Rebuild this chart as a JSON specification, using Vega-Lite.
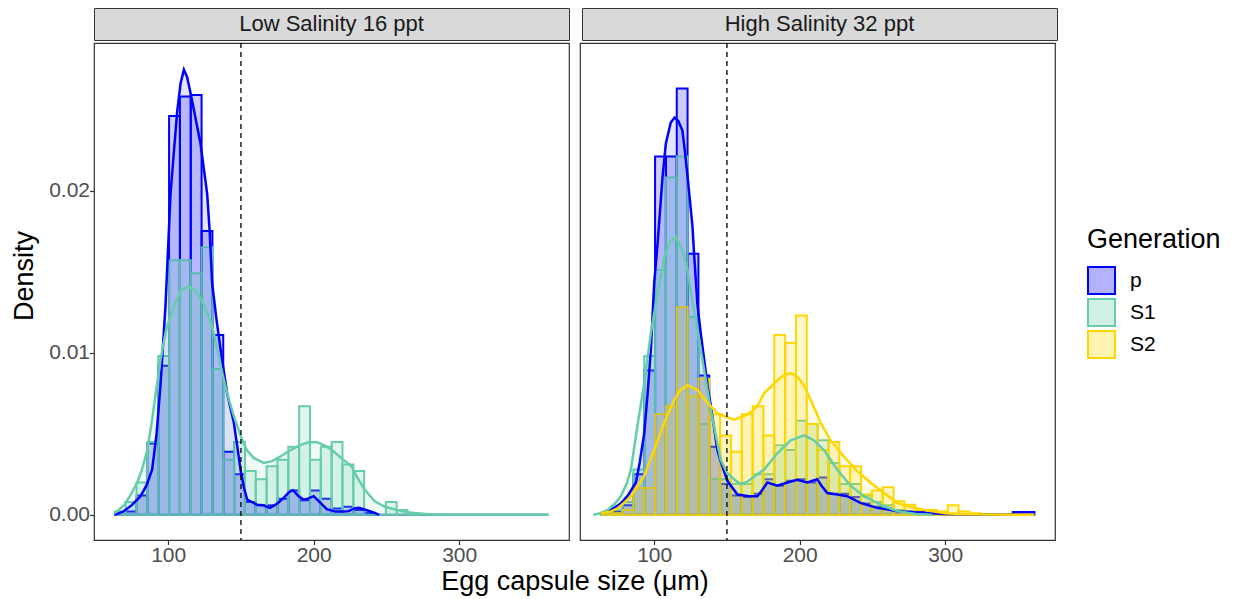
{
"$schema": "https://vega.github.io/schema/vega-lite/v6.json",
"padding": {"left": 10, "top": 7, "right": 5, "bottom": 5},
"background": "white",
"datasets": {
"bars": [
{"panel":"Low","gen":"p","lo":63.35,"hi":70.8,"dens":0},{"panel":"Low","gen":"p","lo":70.8,"hi":78.25,"dens":0.0002},{"panel":"Low","gen":"p","lo":78.25,"hi":85.7,"dens":0.0012},{"panel":"Low","gen":"p","lo":85.7,"hi":93.15,"dens":0.0044},{"panel":"Low","gen":"p","lo":93.15,"hi":100.6,"dens":0.0092},{"panel":"Low","gen":"p","lo":100.6,"hi":108.05,"dens":0.0246},{"panel":"Low","gen":"p","lo":108.05,"hi":115.5,"dens":0.0258},{"panel":"Low","gen":"p","lo":115.5,"hi":122.95,"dens":0.0259},{"panel":"Low","gen":"p","lo":122.95,"hi":130.4,"dens":0.0175},{"panel":"Low","gen":"p","lo":130.4,"hi":137.85,"dens":0.0111},{"panel":"Low","gen":"p","lo":137.85,"hi":145.3,"dens":0.0039},{"panel":"Low","gen":"p","lo":145.3,"hi":152.75,"dens":0.0025},{"panel":"Low","gen":"p","lo":152.75,"hi":160.2,"dens":0.0008},{"panel":"Low","gen":"p","lo":160.2,"hi":167.65,"dens":0.0006},{"panel":"Low","gen":"p","lo":167.65,"hi":175.1,"dens":0.0006},{"panel":"Low","gen":"p","lo":175.1,"hi":182.55,"dens":0.001},{"panel":"Low","gen":"p","lo":182.55,"hi":190,"dens":0.0015},{"panel":"Low","gen":"p","lo":190,"hi":197.45,"dens":0.0009},{"panel":"Low","gen":"p","lo":197.45,"hi":204.9,"dens":0.0015},{"panel":"Low","gen":"p","lo":204.9,"hi":212.35,"dens":0.001},{"panel":"Low","gen":"p","lo":212.35,"hi":219.8,"dens":0.0004},{"panel":"Low","gen":"p","lo":219.8,"hi":227.25,"dens":0.0005},{"panel":"Low","gen":"p","lo":227.25,"hi":234.7,"dens":0.0003},{"panel":"Low","gen":"p","lo":234.7,"hi":242.15,"dens":0.0001},{"panel":"Low","gen":"p","lo":242.15,"hi":249.6,"dens":0},{"panel":"Low","gen":"p","lo":249.6,"hi":257.05,"dens":0},{"panel":"Low","gen":"p","lo":257.05,"hi":264.5,"dens":0},{"panel":"Low","gen":"p","lo":264.5,"hi":271.95,"dens":0},{"panel":"Low","gen":"p","lo":271.95,"hi":279.4,"dens":0},{"panel":"Low","gen":"p","lo":279.4,"hi":286.85,"dens":0},{"panel":"Low","gen":"p","lo":286.85,"hi":294.3,"dens":0},{"panel":"Low","gen":"p","lo":294.3,"hi":301.75,"dens":0},{"panel":"Low","gen":"p","lo":301.75,"hi":309.2,"dens":0},{"panel":"Low","gen":"p","lo":309.2,"hi":316.65,"dens":0},{"panel":"Low","gen":"p","lo":316.65,"hi":324.1,"dens":0},{"panel":"Low","gen":"p","lo":324.1,"hi":331.55,"dens":0},{"panel":"Low","gen":"p","lo":331.55,"hi":339,"dens":0},{"panel":"Low","gen":"p","lo":339,"hi":346.45,"dens":0},{"panel":"Low","gen":"p","lo":346.45,"hi":353.9,"dens":0},{"panel":"Low","gen":"p","lo":353.9,"hi":361.35,"dens":0},
{"panel":"Low","gen":"S1","lo":63.35,"hi":70.8,"dens":0.0002},{"panel":"Low","gen":"S1","lo":70.8,"hi":78.25,"dens":0.0008},{"panel":"Low","gen":"S1","lo":78.25,"hi":85.7,"dens":0.002},{"panel":"Low","gen":"S1","lo":85.7,"hi":93.15,"dens":0.0045},{"panel":"Low","gen":"S1","lo":93.15,"hi":100.6,"dens":0.0098},{"panel":"Low","gen":"S1","lo":100.6,"hi":108.05,"dens":0.0157},{"panel":"Low","gen":"S1","lo":108.05,"hi":115.5,"dens":0.0157},{"panel":"Low","gen":"S1","lo":115.5,"hi":122.95,"dens":0.0149},{"panel":"Low","gen":"S1","lo":122.95,"hi":130.4,"dens":0.0165},{"panel":"Low","gen":"S1","lo":130.4,"hi":137.85,"dens":0.009},{"panel":"Low","gen":"S1","lo":137.85,"hi":145.3,"dens":0.0034},{"panel":"Low","gen":"S1","lo":145.3,"hi":152.75,"dens":0.0045},{"panel":"Low","gen":"S1","lo":152.75,"hi":160.2,"dens":0.0027},{"panel":"Low","gen":"S1","lo":160.2,"hi":167.65,"dens":0.0022},{"panel":"Low","gen":"S1","lo":167.65,"hi":175.1,"dens":0.003},{"panel":"Low","gen":"S1","lo":175.1,"hi":182.55,"dens":0.0034},{"panel":"Low","gen":"S1","lo":182.55,"hi":190,"dens":0.0042},{"panel":"Low","gen":"S1","lo":190,"hi":197.45,"dens":0.0067},{"panel":"Low","gen":"S1","lo":197.45,"hi":204.9,"dens":0.0034},{"panel":"Low","gen":"S1","lo":204.9,"hi":212.35,"dens":0.0042},{"panel":"Low","gen":"S1","lo":212.35,"hi":219.8,"dens":0.0045},{"panel":"Low","gen":"S1","lo":219.8,"hi":227.25,"dens":0.0031},{"panel":"Low","gen":"S1","lo":227.25,"hi":234.7,"dens":0.0027},{"panel":"Low","gen":"S1","lo":234.7,"hi":242.15,"dens":0},{"panel":"Low","gen":"S1","lo":242.15,"hi":249.6,"dens":0},{"panel":"Low","gen":"S1","lo":249.6,"hi":257.05,"dens":0.0008},{"panel":"Low","gen":"S1","lo":257.05,"hi":264.5,"dens":0.0003},{"panel":"Low","gen":"S1","lo":264.5,"hi":271.95,"dens":0.0001},{"panel":"Low","gen":"S1","lo":271.95,"hi":279.4,"dens":0},{"panel":"Low","gen":"S1","lo":279.4,"hi":286.85,"dens":0},{"panel":"Low","gen":"S1","lo":286.85,"hi":294.3,"dens":0},{"panel":"Low","gen":"S1","lo":294.3,"hi":301.75,"dens":0},{"panel":"Low","gen":"S1","lo":301.75,"hi":309.2,"dens":0},{"panel":"Low","gen":"S1","lo":309.2,"hi":316.65,"dens":0},{"panel":"Low","gen":"S1","lo":316.65,"hi":324.1,"dens":0},{"panel":"Low","gen":"S1","lo":324.1,"hi":331.55,"dens":0},{"panel":"Low","gen":"S1","lo":331.55,"hi":339,"dens":0},{"panel":"Low","gen":"S1","lo":339,"hi":346.45,"dens":0},{"panel":"Low","gen":"S1","lo":346.45,"hi":353.9,"dens":0},{"panel":"Low","gen":"S1","lo":353.9,"hi":361.35,"dens":0},
{"panel":"High","gen":"p","lo":63.35,"hi":70.8,"dens":0.0001},{"panel":"High","gen":"p","lo":70.8,"hi":78.25,"dens":0.0002},{"panel":"High","gen":"p","lo":78.25,"hi":85.7,"dens":0.0006},{"panel":"High","gen":"p","lo":85.7,"hi":93.15,"dens":0.0025},{"panel":"High","gen":"p","lo":93.15,"hi":100.6,"dens":0.0089},{"panel":"High","gen":"p","lo":100.6,"hi":108.05,"dens":0.0221},{"panel":"High","gen":"p","lo":108.05,"hi":115.5,"dens":0.0221},{"panel":"High","gen":"p","lo":115.5,"hi":122.95,"dens":0.0263},{"panel":"High","gen":"p","lo":122.95,"hi":130.4,"dens":0.0161},{"panel":"High","gen":"p","lo":130.4,"hi":137.85,"dens":0.0086},{"panel":"High","gen":"p","lo":137.85,"hi":145.3,"dens":0.0042},{"panel":"High","gen":"p","lo":145.3,"hi":152.75,"dens":0.0019},{"panel":"High","gen":"p","lo":152.75,"hi":160.2,"dens":0.0012},{"panel":"High","gen":"p","lo":160.2,"hi":167.65,"dens":0.0011},{"panel":"High","gen":"p","lo":167.65,"hi":175.1,"dens":0.0013},{"panel":"High","gen":"p","lo":175.1,"hi":182.55,"dens":0.0022},{"panel":"High","gen":"p","lo":182.55,"hi":190,"dens":0.0018},{"panel":"High","gen":"p","lo":190,"hi":197.45,"dens":0.0021},{"panel":"High","gen":"p","lo":197.45,"hi":204.9,"dens":0.0022},{"panel":"High","gen":"p","lo":204.9,"hi":212.35,"dens":0.002},{"panel":"High","gen":"p","lo":212.35,"hi":219.8,"dens":0.0023},{"panel":"High","gen":"p","lo":219.8,"hi":227.25,"dens":0.0013},{"panel":"High","gen":"p","lo":227.25,"hi":234.7,"dens":0.0013},{"panel":"High","gen":"p","lo":234.7,"hi":242.15,"dens":0.0011},{"panel":"High","gen":"p","lo":242.15,"hi":249.6,"dens":0.0007},{"panel":"High","gen":"p","lo":249.6,"hi":257.05,"dens":0.0005},{"panel":"High","gen":"p","lo":257.05,"hi":264.5,"dens":0.0004},{"panel":"High","gen":"p","lo":264.5,"hi":271.95,"dens":0.0003},{"panel":"High","gen":"p","lo":271.95,"hi":279.4,"dens":0.0002},{"panel":"High","gen":"p","lo":279.4,"hi":286.85,"dens":0.0002},{"panel":"High","gen":"p","lo":286.85,"hi":294.3,"dens":0.0001},{"panel":"High","gen":"p","lo":294.3,"hi":301.75,"dens":0},{"panel":"High","gen":"p","lo":301.75,"hi":309.2,"dens":0},{"panel":"High","gen":"p","lo":309.2,"hi":316.65,"dens":0},{"panel":"High","gen":"p","lo":316.65,"hi":324.1,"dens":0},{"panel":"High","gen":"p","lo":324.1,"hi":331.55,"dens":0},{"panel":"High","gen":"p","lo":331.55,"hi":339,"dens":0},{"panel":"High","gen":"p","lo":339,"hi":346.45,"dens":0},{"panel":"High","gen":"p","lo":346.45,"hi":353.9,"dens":0.00017},{"panel":"High","gen":"p","lo":353.9,"hi":361.35,"dens":0.00017},
{"panel":"High","gen":"S1","lo":63.35,"hi":70.8,"dens":0.0001},{"panel":"High","gen":"S1","lo":70.8,"hi":78.25,"dens":0.0003},{"panel":"High","gen":"S1","lo":78.25,"hi":85.7,"dens":0.0008},{"panel":"High","gen":"S1","lo":85.7,"hi":93.15,"dens":0.0028},{"panel":"High","gen":"S1","lo":93.15,"hi":100.6,"dens":0.0098},{"panel":"High","gen":"S1","lo":100.6,"hi":108.05,"dens":0.0151},{"panel":"High","gen":"S1","lo":108.05,"hi":115.5,"dens":0.0208},{"panel":"High","gen":"S1","lo":115.5,"hi":122.95,"dens":0.0221},{"panel":"High","gen":"S1","lo":122.95,"hi":130.4,"dens":0.0122},{"panel":"High","gen":"S1","lo":130.4,"hi":137.85,"dens":0.0056},{"panel":"High","gen":"S1","lo":137.85,"hi":145.3,"dens":0.0022},{"panel":"High","gen":"S1","lo":145.3,"hi":152.75,"dens":0.0022},{"panel":"High","gen":"S1","lo":152.75,"hi":160.2,"dens":0.0019},{"panel":"High","gen":"S1","lo":160.2,"hi":167.65,"dens":0.0019},{"panel":"High","gen":"S1","lo":167.65,"hi":175.1,"dens":0.0025},{"panel":"High","gen":"S1","lo":175.1,"hi":182.55,"dens":0.0025},{"panel":"High","gen":"S1","lo":182.55,"hi":190,"dens":0.0043},{"panel":"High","gen":"S1","lo":190,"hi":197.45,"dens":0.004},{"panel":"High","gen":"S1","lo":197.45,"hi":204.9,"dens":0.0058},{"panel":"High","gen":"S1","lo":204.9,"hi":212.35,"dens":0.0056},{"panel":"High","gen":"S1","lo":212.35,"hi":219.8,"dens":0.0046},{"panel":"High","gen":"S1","lo":219.8,"hi":227.25,"dens":0.0032},{"panel":"High","gen":"S1","lo":227.25,"hi":234.7,"dens":0.0019},{"panel":"High","gen":"S1","lo":234.7,"hi":242.15,"dens":0.0019},{"panel":"High","gen":"S1","lo":242.15,"hi":249.6,"dens":0.0012},{"panel":"High","gen":"S1","lo":249.6,"hi":257.05,"dens":0.0008},{"panel":"High","gen":"S1","lo":257.05,"hi":264.5,"dens":0.0006},{"panel":"High","gen":"S1","lo":264.5,"hi":271.95,"dens":0.0003},{"panel":"High","gen":"S1","lo":271.95,"hi":279.4,"dens":0.0002},{"panel":"High","gen":"S1","lo":279.4,"hi":286.85,"dens":0.0001},{"panel":"High","gen":"S1","lo":286.85,"hi":294.3,"dens":0},{"panel":"High","gen":"S1","lo":294.3,"hi":301.75,"dens":0},{"panel":"High","gen":"S1","lo":301.75,"hi":309.2,"dens":0},{"panel":"High","gen":"S1","lo":309.2,"hi":316.65,"dens":0},{"panel":"High","gen":"S1","lo":316.65,"hi":324.1,"dens":0},{"panel":"High","gen":"S1","lo":324.1,"hi":331.55,"dens":0},{"panel":"High","gen":"S1","lo":331.55,"hi":339,"dens":0},{"panel":"High","gen":"S1","lo":339,"hi":346.45,"dens":0},{"panel":"High","gen":"S1","lo":346.45,"hi":353.9,"dens":0},{"panel":"High","gen":"S1","lo":353.9,"hi":361.35,"dens":0},
{"panel":"High","gen":"S2","lo":63.35,"hi":70.8,"dens":0},{"panel":"High","gen":"S2","lo":70.8,"hi":78.25,"dens":0.0001},{"panel":"High","gen":"S2","lo":78.25,"hi":85.7,"dens":0.0003},{"panel":"High","gen":"S2","lo":85.7,"hi":93.15,"dens":0.00166},{"panel":"High","gen":"S2","lo":93.15,"hi":100.6,"dens":0.00166},{"panel":"High","gen":"S2","lo":100.6,"hi":108.05,"dens":0.0062},{"panel":"High","gen":"S2","lo":108.05,"hi":115.5,"dens":0.0067},{"panel":"High","gen":"S2","lo":115.5,"hi":122.95,"dens":0.0128},{"panel":"High","gen":"S2","lo":122.95,"hi":130.4,"dens":0.0073},{"panel":"High","gen":"S2","lo":130.4,"hi":137.85,"dens":0.0084},{"panel":"High","gen":"S2","lo":137.85,"hi":145.3,"dens":0.0062},{"panel":"High","gen":"S2","lo":145.3,"hi":152.75,"dens":0.0049},{"panel":"High","gen":"S2","lo":152.75,"hi":160.2,"dens":0.0039},{"panel":"High","gen":"S2","lo":160.2,"hi":167.65,"dens":0.0062},{"panel":"High","gen":"S2","lo":167.65,"hi":175.1,"dens":0.0067},{"panel":"High","gen":"S2","lo":175.1,"hi":182.55,"dens":0.0049},{"panel":"High","gen":"S2","lo":182.55,"hi":190,"dens":0.0111},{"panel":"High","gen":"S2","lo":190,"hi":197.45,"dens":0.0106},{"panel":"High","gen":"S2","lo":197.45,"hi":204.9,"dens":0.0123},{"panel":"High","gen":"S2","lo":204.9,"hi":212.35,"dens":0.0056},{"panel":"High","gen":"S2","lo":212.35,"hi":219.8,"dens":0.004},{"panel":"High","gen":"S2","lo":219.8,"hi":227.25,"dens":0.0045},{"panel":"High","gen":"S2","lo":227.25,"hi":234.7,"dens":0.003},{"panel":"High","gen":"S2","lo":234.7,"hi":242.15,"dens":0.003},{"panel":"High","gen":"S2","lo":242.15,"hi":249.6,"dens":0.00125},{"panel":"High","gen":"S2","lo":249.6,"hi":257.05,"dens":0.0015},{"panel":"High","gen":"S2","lo":257.05,"hi":264.5,"dens":0.0017},{"panel":"High","gen":"S2","lo":264.5,"hi":271.95,"dens":0.00084},{"panel":"High","gen":"S2","lo":271.95,"hi":279.4,"dens":0.00063},{"panel":"High","gen":"S2","lo":279.4,"hi":286.85,"dens":0.0003},{"panel":"High","gen":"S2","lo":286.85,"hi":294.3,"dens":0.0003},{"panel":"High","gen":"S2","lo":294.3,"hi":301.75,"dens":0.0002},{"panel":"High","gen":"S2","lo":301.75,"hi":309.2,"dens":0.0006},{"panel":"High","gen":"S2","lo":309.2,"hi":316.65,"dens":0.0002},{"panel":"High","gen":"S2","lo":316.65,"hi":324.1,"dens":0.0001},{"panel":"High","gen":"S2","lo":324.1,"hi":331.55,"dens":0},{"panel":"High","gen":"S2","lo":331.55,"hi":339,"dens":0},{"panel":"High","gen":"S2","lo":339,"hi":346.45,"dens":0},{"panel":"High","gen":"S2","lo":346.45,"hi":353.9,"dens":0},{"panel":"High","gen":"S2","lo":353.9,"hi":361.35,"dens":0}
],
"dens": [
{"panel":"Low","gen":"p","size":63,"dens":0},{"panel":"Low","gen":"p","size":69,"dens":0.0002},{"panel":"Low","gen":"p","size":75,"dens":0.0006},{"panel":"Low","gen":"p","size":81,"dens":0.00115},{"panel":"Low","gen":"p","size":85,"dens":0.0018},{"panel":"Low","gen":"p","size":89,"dens":0.0028},{"panel":"Low","gen":"p","size":92,"dens":0.005},{"panel":"Low","gen":"p","size":94.8,"dens":0.0081},{"panel":"Low","gen":"p","size":98.2,"dens":0.013},{"panel":"Low","gen":"p","size":101.6,"dens":0.0198},{"panel":"Low","gen":"p","size":104,"dens":0.0225},{"panel":"Low","gen":"p","size":106.2,"dens":0.0249},{"panel":"Low","gen":"p","size":108.5,"dens":0.0266},{"panel":"Low","gen":"p","size":110.8,"dens":0.02745},{"panel":"Low","gen":"p","size":113,"dens":0.027},{"panel":"Low","gen":"p","size":115.4,"dens":0.026},{"panel":"Low","gen":"p","size":118.5,"dens":0.0246},{"panel":"Low","gen":"p","size":122.2,"dens":0.0229},{"panel":"Low","gen":"p","size":126.8,"dens":0.0198},{"panel":"Low","gen":"p","size":128.5,"dens":0.0175},{"panel":"Low","gen":"p","size":130.2,"dens":0.0143},{"panel":"Low","gen":"p","size":133,"dens":0.0122},{"panel":"Low","gen":"p","size":136,"dens":0.0102},{"panel":"Low","gen":"p","size":140.5,"dens":0.0075},{"panel":"Low","gen":"p","size":145.1,"dens":0.0057},{"panel":"Low","gen":"p","size":147.5,"dens":0.0042},{"panel":"Low","gen":"p","size":149.7,"dens":0.0028},{"panel":"Low","gen":"p","size":152,"dens":0.0017},{"panel":"Low","gen":"p","size":154.3,"dens":0.00094},{"panel":"Low","gen":"p","size":161,"dens":0.00063},{"panel":"Low","gen":"p","size":165,"dens":0.0006},{"panel":"Low","gen":"p","size":170,"dens":0.00043},{"panel":"Low","gen":"p","size":175,"dens":0.0007},{"panel":"Low","gen":"p","size":179.4,"dens":0.00105},{"panel":"Low","gen":"p","size":183,"dens":0.0014},{"panel":"Low","gen":"p","size":185.8,"dens":0.00152},{"panel":"Low","gen":"p","size":189.7,"dens":0.00115},{"panel":"Low","gen":"p","size":193,"dens":0.00094},{"panel":"Low","gen":"p","size":196,"dens":0.001},{"panel":"Low","gen":"p","size":200,"dens":0.00115},{"panel":"Low","gen":"p","size":204,"dens":0.0008},{"panel":"Low","gen":"p","size":209,"dens":0.00035},{"panel":"Low","gen":"p","size":215,"dens":0.0002},{"panel":"Low","gen":"p","size":220,"dens":0.0002},{"panel":"Low","gen":"p","size":224,"dens":0.00023},{"panel":"Low","gen":"p","size":228,"dens":0.0004},{"panel":"Low","gen":"p","size":231,"dens":0.00043},{"panel":"Low","gen":"p","size":236,"dens":0.0003},{"panel":"Low","gen":"p","size":242,"dens":0.00012},{"panel":"Low","gen":"p","size":245,"dens":0},
{"panel":"Low","gen":"S1","size":63,"dens":0.0001},{"panel":"Low","gen":"S1","size":66,"dens":0.0003},{"panel":"Low","gen":"S1","size":69.6,"dens":0.0006},{"panel":"Low","gen":"S1","size":74,"dens":0.0012},{"panel":"Low","gen":"S1","size":78.8,"dens":0.002},{"panel":"Low","gen":"S1","size":82,"dens":0.0028},{"panel":"Low","gen":"S1","size":85.6,"dens":0.004},{"panel":"Low","gen":"S1","size":88.5,"dens":0.0056},{"panel":"Low","gen":"S1","size":91.4,"dens":0.0075},{"panel":"Low","gen":"S1","size":94.8,"dens":0.0096},{"panel":"Low","gen":"S1","size":98.5,"dens":0.0114},{"panel":"Low","gen":"S1","size":102.7,"dens":0.0126},{"panel":"Low","gen":"S1","size":108.5,"dens":0.0138},{"panel":"Low","gen":"S1","size":114,"dens":0.0141},{"panel":"Low","gen":"S1","size":119,"dens":0.0138},{"panel":"Low","gen":"S1","size":124.5,"dens":0.013},{"panel":"Low","gen":"S1","size":128,"dens":0.0122},{"panel":"Low","gen":"S1","size":131.4,"dens":0.0112},{"panel":"Low","gen":"S1","size":136,"dens":0.0092},{"panel":"Low","gen":"S1","size":140.5,"dens":0.0075},{"panel":"Low","gen":"S1","size":145.1,"dens":0.0061},{"panel":"Low","gen":"S1","size":149.7,"dens":0.0049},{"panel":"Low","gen":"S1","size":154,"dens":0.004},{"panel":"Low","gen":"S1","size":158.9,"dens":0.0035},{"panel":"Low","gen":"S1","size":165.7,"dens":0.0032},{"panel":"Low","gen":"S1","size":171,"dens":0.0033},{"panel":"Low","gen":"S1","size":177.1,"dens":0.0036},{"panel":"Low","gen":"S1","size":184,"dens":0.004},{"panel":"Low","gen":"S1","size":190.8,"dens":0.0043},{"panel":"Low","gen":"S1","size":196,"dens":0.00447},{"panel":"Low","gen":"S1","size":202,"dens":0.0045},{"panel":"Low","gen":"S1","size":207,"dens":0.0043},{"panel":"Low","gen":"S1","size":212.6,"dens":0.004},{"panel":"Low","gen":"S1","size":219,"dens":0.0035},{"panel":"Low","gen":"S1","size":226,"dens":0.003},{"panel":"Low","gen":"S1","size":230,"dens":0.0023},{"panel":"Low","gen":"S1","size":235,"dens":0.00156},{"panel":"Low","gen":"S1","size":242,"dens":0.00084},{"panel":"Low","gen":"S1","size":249,"dens":0.0005},{"panel":"Low","gen":"S1","size":256,"dens":0.00033},{"panel":"Low","gen":"S1","size":262,"dens":0.0002},{"panel":"Low","gen":"S1","size":270,"dens":0.0001},{"panel":"Low","gen":"S1","size":280,"dens":0.00004},{"panel":"Low","gen":"S1","size":300,"dens":0.00001},{"panel":"Low","gen":"S1","size":361,"dens":0},
{"panel":"High","gen":"p","size":63.4,"dens":0.0001},{"panel":"High","gen":"p","size":70,"dens":0.0003},{"panel":"High","gen":"p","size":77,"dens":0.0007},{"panel":"High","gen":"p","size":82,"dens":0.0012},{"panel":"High","gen":"p","size":87.4,"dens":0.002},{"panel":"High","gen":"p","size":90,"dens":0.0032},{"panel":"High","gen":"p","size":93.1,"dens":0.005},{"panel":"High","gen":"p","size":95.5,"dens":0.0075},{"panel":"High","gen":"p","size":97.7,"dens":0.0102},{"panel":"High","gen":"p","size":100,"dens":0.0143},{"panel":"High","gen":"p","size":102.3,"dens":0.0167},{"panel":"High","gen":"p","size":105.7,"dens":0.0208},{"panel":"High","gen":"p","size":108,"dens":0.0229},{"panel":"High","gen":"p","size":111.4,"dens":0.0242},{"panel":"High","gen":"p","size":114,"dens":0.0245},{"panel":"High","gen":"p","size":116.5,"dens":0.0243},{"panel":"High","gen":"p","size":119.4,"dens":0.0237},{"panel":"High","gen":"p","size":121,"dens":0.0225},{"panel":"High","gen":"p","size":122.9,"dens":0.0209},{"panel":"High","gen":"p","size":126.3,"dens":0.0178},{"panel":"High","gen":"p","size":127.5,"dens":0.016},{"panel":"High","gen":"p","size":129.7,"dens":0.013},{"panel":"High","gen":"p","size":132,"dens":0.0112},{"panel":"High","gen":"p","size":136.6,"dens":0.008},{"panel":"High","gen":"p","size":138.8,"dens":0.0068},{"panel":"High","gen":"p","size":143.4,"dens":0.004},{"panel":"High","gen":"p","size":145.7,"dens":0.0033},{"panel":"High","gen":"p","size":150.3,"dens":0.0021},{"panel":"High","gen":"p","size":157.2,"dens":0.00125},{"panel":"High","gen":"p","size":165,"dens":0.00115},{"panel":"High","gen":"p","size":170.9,"dens":0.00115},{"panel":"High","gen":"p","size":174,"dens":0.0015},{"panel":"High","gen":"p","size":177.8,"dens":0.002},{"panel":"High","gen":"p","size":181,"dens":0.0019},{"panel":"High","gen":"p","size":184.6,"dens":0.0018},{"panel":"High","gen":"p","size":191.5,"dens":0.002},{"panel":"High","gen":"p","size":198.3,"dens":0.00217},{"panel":"High","gen":"p","size":205.2,"dens":0.002},{"panel":"High","gen":"p","size":212.1,"dens":0.0022},{"panel":"High","gen":"p","size":215,"dens":0.0018},{"panel":"High","gen":"p","size":219,"dens":0.00135},{"panel":"High","gen":"p","size":225.8,"dens":0.00125},{"panel":"High","gen":"p","size":232.7,"dens":0.00115},{"panel":"High","gen":"p","size":241.8,"dens":0.00074},{"panel":"High","gen":"p","size":253.3,"dens":0.00043},{"panel":"High","gen":"p","size":260,"dens":0.00035},{"panel":"High","gen":"p","size":267,"dens":0.00022},{"panel":"High","gen":"p","size":280.7,"dens":0.00015},{"panel":"High","gen":"p","size":300,"dens":0.00005},{"panel":"High","gen":"p","size":330,"dens":0.00002},{"panel":"High","gen":"p","size":361,"dens":0},
{"panel":"High","gen":"S1","size":58,"dens":0},{"panel":"High","gen":"S1","size":63,"dens":0.0001},{"panel":"High","gen":"S1","size":68,"dens":0.0003},{"panel":"High","gen":"S1","size":73,"dens":0.0007},{"panel":"High","gen":"S1","size":77,"dens":0.00115},{"panel":"High","gen":"S1","size":81,"dens":0.0019},{"panel":"High","gen":"S1","size":84,"dens":0.0028},{"panel":"High","gen":"S1","size":88.5,"dens":0.0055},{"panel":"High","gen":"S1","size":93.1,"dens":0.0081},{"panel":"High","gen":"S1","size":97.7,"dens":0.0112},{"panel":"High","gen":"S1","size":102.3,"dens":0.0137},{"panel":"High","gen":"S1","size":106.9,"dens":0.0159},{"panel":"High","gen":"S1","size":111.2,"dens":0.0169},{"panel":"High","gen":"S1","size":114.8,"dens":0.01715},{"panel":"High","gen":"S1","size":119.4,"dens":0.0163},{"panel":"High","gen":"S1","size":122.9,"dens":0.0151},{"panel":"High","gen":"S1","size":126.3,"dens":0.0132},{"panel":"High","gen":"S1","size":132,"dens":0.0102},{"panel":"High","gen":"S1","size":138.8,"dens":0.0065},{"panel":"High","gen":"S1","size":145.7,"dens":0.0034},{"panel":"High","gen":"S1","size":150,"dens":0.0026},{"panel":"High","gen":"S1","size":154.9,"dens":0.0022},{"panel":"High","gen":"S1","size":159.4,"dens":0.0019},{"panel":"High","gen":"S1","size":163,"dens":0.002},{"panel":"High","gen":"S1","size":166.3,"dens":0.0022},{"panel":"High","gen":"S1","size":175.5,"dens":0.0028},{"panel":"High","gen":"S1","size":184.6,"dens":0.0038},{"panel":"High","gen":"S1","size":193.8,"dens":0.0046},{"panel":"High","gen":"S1","size":203,"dens":0.0049},{"panel":"High","gen":"S1","size":209.8,"dens":0.0046},{"panel":"High","gen":"S1","size":216.7,"dens":0.004},{"panel":"High","gen":"S1","size":225.8,"dens":0.0028},{"panel":"High","gen":"S1","size":235,"dens":0.0018},{"panel":"High","gen":"S1","size":244.1,"dens":0.00115},{"panel":"High","gen":"S1","size":257.9,"dens":0.00053},{"panel":"High","gen":"S1","size":267,"dens":0.00023},{"panel":"High","gen":"S1","size":280,"dens":0.00006},{"panel":"High","gen":"S1","size":291,"dens":0},
{"panel":"High","gen":"S2","size":63.4,"dens":0.0001},{"panel":"High","gen":"S2","size":70,"dens":0.0002},{"panel":"High","gen":"S2","size":74.8,"dens":0.0004},{"panel":"High","gen":"S2","size":80,"dens":0.0008},{"panel":"High","gen":"S2","size":84,"dens":0.00115},{"panel":"High","gen":"S2","size":88,"dens":0.0017},{"panel":"High","gen":"S2","size":93.1,"dens":0.0024},{"panel":"High","gen":"S2","size":100,"dens":0.004},{"panel":"High","gen":"S2","size":106.9,"dens":0.0057},{"panel":"High","gen":"S2","size":113.7,"dens":0.0071},{"panel":"High","gen":"S2","size":118,"dens":0.0077},{"panel":"High","gen":"S2","size":122.9,"dens":0.008},{"panel":"High","gen":"S2","size":129.7,"dens":0.0077},{"panel":"High","gen":"S2","size":134,"dens":0.0072},{"panel":"High","gen":"S2","size":138.8,"dens":0.0067},{"panel":"High","gen":"S2","size":143,"dens":0.0063},{"panel":"High","gen":"S2","size":148,"dens":0.0061},{"panel":"High","gen":"S2","size":154.9,"dens":0.00587},{"panel":"High","gen":"S2","size":161.8,"dens":0.0061},{"panel":"High","gen":"S2","size":166,"dens":0.0063},{"panel":"High","gen":"S2","size":170.9,"dens":0.0067},{"panel":"High","gen":"S2","size":175.5,"dens":0.0075},{"panel":"High","gen":"S2","size":180,"dens":0.0079},{"panel":"High","gen":"S2","size":184.6,"dens":0.0083},{"panel":"High","gen":"S2","size":189,"dens":0.0086},{"panel":"High","gen":"S2","size":193.8,"dens":0.00874},{"panel":"High","gen":"S2","size":197,"dens":0.0086},{"panel":"High","gen":"S2","size":200.6,"dens":0.0083},{"panel":"High","gen":"S2","size":204,"dens":0.0078},{"panel":"High","gen":"S2","size":207.5,"dens":0.0071},{"panel":"High","gen":"S2","size":211,"dens":0.0064},{"panel":"High","gen":"S2","size":214.3,"dens":0.0057},{"panel":"High","gen":"S2","size":221.2,"dens":0.0046},{"panel":"High","gen":"S2","size":230.4,"dens":0.0036},{"panel":"High","gen":"S2","size":239.5,"dens":0.0027},{"panel":"High","gen":"S2","size":248.7,"dens":0.002},{"panel":"High","gen":"S2","size":257.9,"dens":0.00135},{"panel":"High","gen":"S2","size":267,"dens":0.00074},{"panel":"High","gen":"S2","size":276,"dens":0.00049},{"panel":"High","gen":"S2","size":290,"dens":0.00023},{"panel":"High","gen":"S2","size":300,"dens":0.0001},{"panel":"High","gen":"S2","size":310,"dens":0.00005},{"panel":"High","gen":"S2","size":330,"dens":0.00002},{"panel":"High","gen":"S2","size":361,"dens":0}
]
},
"vconcat": [
{"hconcat": [
 {"data": {"values": [{"label": "Low Salinity 16 ppt"}]}, "width": 475, "height": 32,
  "view": {"fill": "#D9D9D9", "stroke": "#333333"},
  "mark": {"type": "text", "fontSize": 22, "color": "#1A1A1A", "baseline": "middle", "align": "center"},
  "encoding": {"text": {"field": "label"}}},
 {"data": {"values": [{"label": "High Salinity 32 ppt"}]}, "width": 475, "height": 32,
  "view": {"fill": "#D9D9D9", "stroke": "#333333"},
  "mark": {"type": "text", "fontSize": 22, "color": "#1A1A1A", "baseline": "middle", "align": "center"},
  "encoding": {"text": {"field": "label"}}}
 ], "spacing": 11},
{"hconcat": [
 {"width": 475, "height": 497,
  "layer": [
   {"data": {"name": "bars"}, "transform": [{"filter": "datum.panel === 'Low'"}],
    "mark": {"type": "bar", "fillOpacity": 0.2, "strokeWidth": 2},
    "encoding": {
     "x": {"field": "lo", "type": "quantitative", "scale": {"domain": [49, 375.5], "nice": false, "zero": false},
           "axis": {"values": [100, 200, 300], "title": "Egg capsule size (μm)", "titleX": 480.5, "titleAlign": "center", "titlePadding": 3}},
     "x2": {"field": "hi"},
     "y": {"field": "dens", "type": "quantitative", "scale": {"domain": [-0.00155, 0.0291], "nice": false, "zero": false},
           "axis": {"values": [0, 0.01, 0.02], "format": ".2f", "title": "Density", "titlePadding": 10, "titleY": 232.5}},
     "y2": {"datum": 0},
     "color": {"field": "gen", "type": "nominal", "scale": {"domain": ["p", "S1", "S2"], "range": ["#0000FF", "#66CDAA", "#FFD700"]},
        "legend": {"title": "Generation", "orient": "none", "legendX": 993, "legendY": 219, "symbolType": "square", "symbolSize": 729,
          "encode": {"symbols": {"update": {"fill": {"scale": "color", "field": "value"}, "fillOpacity": {"value": 0.3}, "stroke": {"scale": "color", "field": "value"}, "strokeWidth": {"value": 2}, "opacity": {"value": 1}}}}}},
     "stroke": {"field": "gen", "type": "nominal", "scale": {"domain": ["p", "S1", "S2"], "range": ["#0000FF", "#66CDAA", "#FFD700"]}, "legend": null}
    }},
   {"data": {"name": "dens"}, "transform": [{"filter": "datum.panel === 'Low'"}],
    "mark": {"type": "area", "fillOpacity": 0.1},
    "encoding": {"x": {"field": "size", "type": "quantitative"}, "y": {"field": "dens", "type": "quantitative"}, "y2": {"datum": 0}, "color": {"field": "gen", "type": "nominal"}}},
   {"data": {"name": "dens"}, "transform": [{"filter": "datum.panel === 'Low'"}],
    "mark": {"type": "line", "strokeWidth": 2.5},
    "encoding": {"x": {"field": "size", "type": "quantitative"}, "y": {"field": "dens", "type": "quantitative"}, "color": {"field": "gen", "type": "nominal"}}},
   {"data": {"values": [{}]}, "mark": {"type": "rule", "strokeDash": [5, 4], "color": "black", "strokeWidth": 1.3}, "encoding": {"x": {"datum": 150}}}
  ]},
 {"width": 475, "height": 497,
  "layer": [
   {"data": {"name": "bars"}, "transform": [{"filter": "datum.panel === 'High'"}],
    "mark": {"type": "bar", "fillOpacity": 0.2, "strokeWidth": 2},
    "encoding": {
     "x": {"field": "lo", "type": "quantitative", "scale": {"domain": [49, 375.5], "nice": false, "zero": false},
           "axis": {"values": [100, 200, 300], "title": null}},
     "x2": {"field": "hi"},
     "y": {"field": "dens", "type": "quantitative", "scale": {"domain": [-0.00155, 0.0291], "nice": false, "zero": false}, "axis": null},
     "y2": {"datum": 0},
     "color": {"field": "gen", "type": "nominal", "scale": {"domain": ["p", "S1", "S2"], "range": ["#0000FF", "#66CDAA", "#FFD700"]}},
     "stroke": {"field": "gen", "type": "nominal", "scale": {"domain": ["p", "S1", "S2"], "range": ["#0000FF", "#66CDAA", "#FFD700"]}, "legend": null}
    }},
   {"data": {"name": "dens"}, "transform": [{"filter": "datum.panel === 'High'"}],
    "mark": {"type": "area", "fillOpacity": 0.1},
    "encoding": {"x": {"field": "size", "type": "quantitative"}, "y": {"field": "dens", "type": "quantitative"}, "y2": {"datum": 0}, "color": {"field": "gen", "type": "nominal"}}},
   {"data": {"name": "dens"}, "transform": [{"filter": "datum.panel === 'High'"}],
    "mark": {"type": "line", "strokeWidth": 2.5},
    "encoding": {"x": {"field": "size", "type": "quantitative"}, "y": {"field": "dens", "type": "quantitative"}, "color": {"field": "gen", "type": "nominal"}}},
   {"data": {"values": [{}]}, "mark": {"type": "rule", "strokeDash": [5, 4], "color": "black", "strokeWidth": 1.3}, "encoding": {"x": {"datum": 150}}}
  ]}
 ], "spacing": 11, "bounds": "flush"}
],
"spacing": 0,
"config": {
 "font": "Liberation Sans",
 "view": {"stroke": "#333333", "strokeWidth": 1.2},
 "axis": {"grid": false, "domain": false, "tickColor": "#333333", "tickSize": 4.5, "tickWidth": 1.2, "labelColor": "#4D4D4D", "labelFontSize": 21, "labelFont": "Liberation Sans", "titleFont": "Liberation Sans", "titleFontSize": 27, "titleFontWeight": "normal", "titleColor": "#000000", "labelPadding": 0},
 "legend": {"titleFontSize": 27, "titleFontWeight": "normal", "titleColor": "#000000", "titleFont": "Liberation Sans", "labelFont": "Liberation Sans", "labelFontSize": 21, "labelColor": "#000000", "rowPadding": -5, "titlePadding": 12, "labelOffset": 14}
}
}
